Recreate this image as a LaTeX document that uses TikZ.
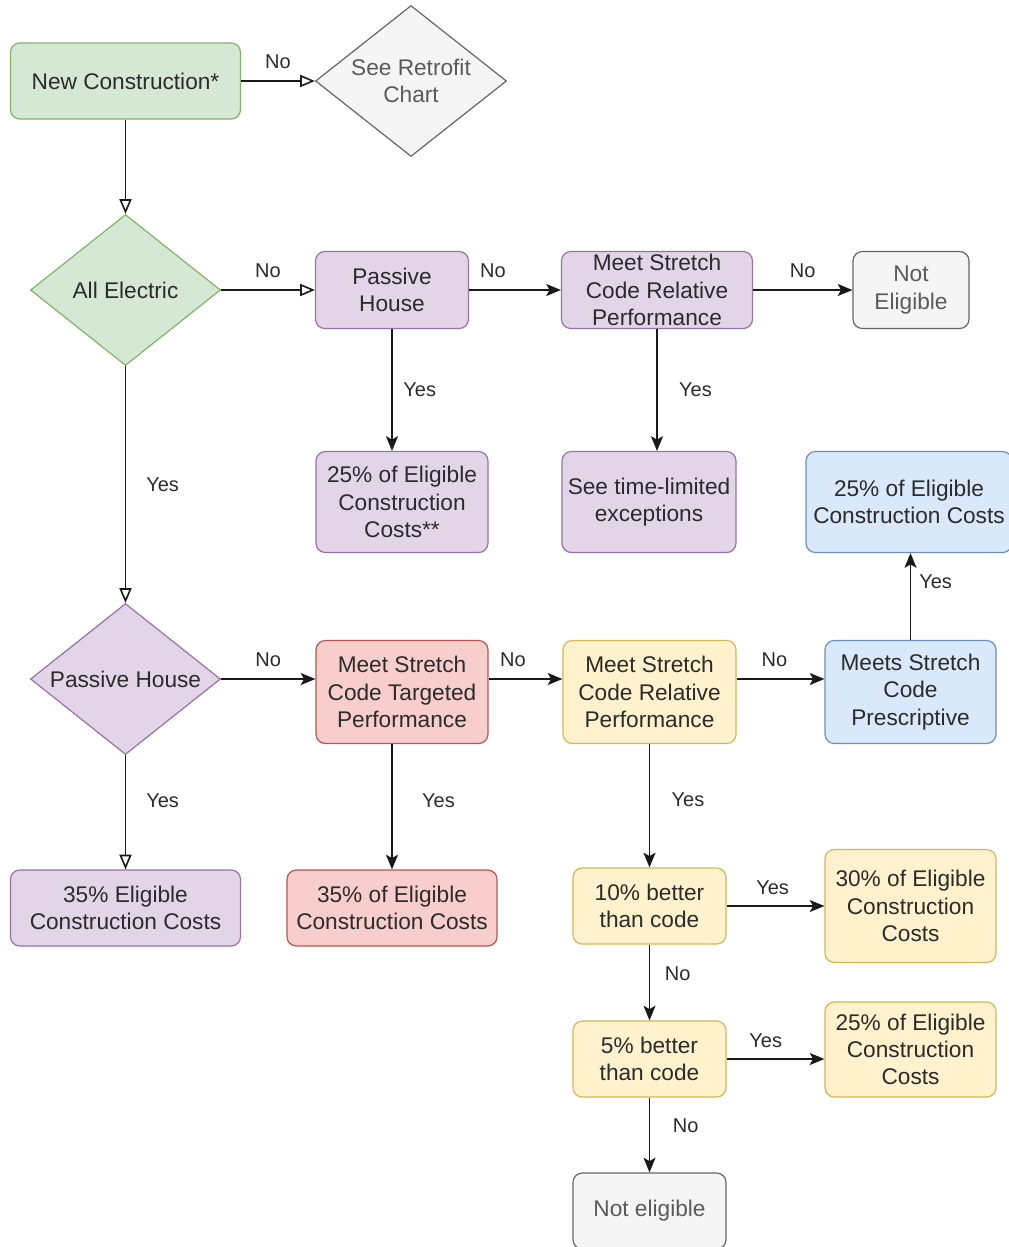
\documentclass[tikz,border=0pt]{standalone}
\usepackage{fontspec}
\setmainfont{Liberation Sans}
\usetikzlibrary{shapes.geometric, arrows.meta}

\definecolor{greenfill}{HTML}{D5E8D4}
\definecolor{greenline}{HTML}{82B366}
\definecolor{grayfill}{HTML}{F5F5F5}
\definecolor{grayline}{HTML}{666666}
\definecolor{purplefill}{HTML}{E1D5E7}
\definecolor{purpleline}{HTML}{9673A6}
\definecolor{redfill}{HTML}{F8CECC}
\definecolor{redline}{HTML}{B85450}
\definecolor{yellowfill}{HTML}{FFF2CC}
\definecolor{yellowline}{HTML}{D6B656}
\definecolor{bluefill}{HTML}{DAE8FC}
\definecolor{blueline}{HTML}{6C8EBF}
\definecolor{txtdark}{HTML}{2B2B2B}
\definecolor{txtgray}{HTML}{5A5A5A}

\begin{document}
\begin{tikzpicture}[x=0.75pt, y=-0.75pt,
    box/.style={draw, rounded corners=7pt, align=center, inner sep=0pt, line width=0.9pt,
        text=txtdark, font=\fontsize{17}{20.5}\selectfont},
    dia/.style={draw, diamond, aspect=1.26, align=center, inner sep=0pt, line width=0.9pt,
        text=txtdark, font=\fontsize{17}{20.5}\selectfont},
    green/.style={fill=greenfill, draw=greenline},
    grey/.style={fill=grayfill, draw=grayline, text=txtgray},
    purple/.style={fill=purplefill, draw=purpleline},
    red/.style={fill=redfill, draw=redline},
    yellow/.style={fill=yellowfill, draw=yellowline},
    blue/.style={fill=bluefill, draw=blueline},
    hol/.style={line width=1.2pt, draw=black!90, -{Triangle[open, length=11pt, width=9pt]}},
    arr/.style={line width=1.2pt, draw=black!90, -{Stealth[length=11pt, width=9pt, inset=2.5pt]}},
    lbl/.style={text=txtdark, font=\fontsize{15}{18}\selectfont, inner sep=0pt}
]
\useasboundingbox[fill=white] (0,0) rectangle (1008,1247);

% top row
\node[box, green, minimum width=172.5pt, minimum height=57pt] (nc) at (125.5,81) {New Construction*};
\node[dia, grey, minimum width=143.25pt, minimum height=113.25pt] (retro) at (411,81) {See Retrofit\\Chart};

% all electric, no branch
\node[dia, green, minimum width=142.5pt, minimum height=113.25pt] (ae) at (125.5,290) {All Electric};
\node[box, purple, minimum width=114.75pt, minimum height=57.75pt] (ph1) at (392,290) {Passive\\House};
\node[box, purple, minimum width=143.25pt, minimum height=57.75pt] (rel1) at (657,290) {Meet Stretch\\Code Relative\\Performance};
\node[box, grey, minimum width=87pt, minimum height=57.75pt] (notel) at (911,290) {Not\\Eligible};
\node[box, purple, minimum width=129pt, minimum height=75.75pt] (r25a) at (402,502) {25\% of Eligible\\Construction\\Costs**};
\node[box, purple, minimum width=130.5pt, minimum height=75.75pt] (seetl) at (649,502) {See time-limited\\exceptions};
\node[box, blue, minimum width=154.5pt, minimum height=75.75pt] (r25blue) at (909,502) {25\% of Eligible\\Construction Costs};

% all electric, yes branch
\node[dia, purple, minimum width=142.5pt, minimum height=113.25pt] (phd) at (125.5,679) {Passive House};
\node[box, red, minimum width=129pt, minimum height=77.25pt] (tgt) at (402,692) {Meet Stretch\\Code Targeted\\Performance};
\node[box, yellow, minimum width=129.75pt, minimum height=77.25pt] (rel2) at (649.5,692) {Meet Stretch\\Code Relative\\Performance};
\node[box, blue, minimum width=128.25pt, minimum height=77.25pt] (presc) at (910.5,692) {Meets Stretch\\Code\\Prescriptive};
\node[box, purple, minimum width=172.5pt, minimum height=57pt] (r35a) at (125.5,908) {35\% Eligible\\Construction Costs};
\node[box, red, minimum width=157.5pt, minimum height=57pt] (r35b) at (392,908) {35\% of Eligible\\Construction Costs};
\node[box, yellow, minimum width=114.75pt, minimum height=57pt] (b10) at (649.5,906) {10\% better\\than code};
\node[box, yellow, minimum width=128.25pt, minimum height=84.75pt] (r30) at (910.5,906) {30\% of Eligible\\Construction\\Costs};
\node[box, yellow, minimum width=114.75pt, minimum height=57pt] (b5) at (649.5,1059) {5\% better\\than code};
\node[box, yellow, minimum width=128.25pt, minimum height=71.25pt] (r25y) at (910.5,1049.5) {25\% of Eligible\\Construction\\Costs};
\node[box, grey, minimum width=114.75pt, minimum height=57pt] (note) at (649.5,1211) {Not eligible};

% connectors
\draw[hol] (nc.east) -- (retro.west) node[lbl, midway, above=8.5pt] {No};
\draw[hol] (nc.south) -- (ae.north);
\draw[hol] (ae.east) -- (ph1.west) node[lbl, midway, above=8.5pt] {No};
\draw[hol] (ae.south) -- (phd.north) node[lbl, midway, right=15pt] {Yes};
\draw[arr] (ph1.east) -- (rel1.west) node[lbl, pos=.26, above=8.5pt] {No};
\draw[arr] (rel1.east) -- (notel.west) node[lbl, midway, above=8.5pt] {No};
\draw[arr] (ph1.south) -- (ph1.south |- r25a.north) node[lbl, midway, right=8pt] {Yes};
\draw[arr] (rel1.south) -- (rel1.south |- seetl.north) node[lbl, midway, right=16pt] {Yes};

\draw[arr] (phd.east) -- (phd.east -| tgt.west) node[lbl, midway, above=8.5pt] {No};
\draw[hol] (phd.south) -- (r35a.north) node[lbl, pos=.4, right=15pt] {Yes};
\draw[arr] (tgt.east |- phd.east) -- (rel2.west |- phd.east) node[lbl, pos=.33, above=8.5pt] {No};
\draw[arr] (tgt.south -| r35b.north) -- (r35b.north) node[lbl, pos=.45, right=22pt] {Yes};
\draw[arr] (rel2.east |- phd.east) -- (presc.west |- phd.east) node[lbl, pos=.43, above=8.5pt] {No};
\draw[arr] (presc.north) -- (presc.north |- r25blue.south) node[lbl, pos=.67, right=6pt] {Yes};
\draw[arr] (rel2.south) -- (b10.north) node[lbl, pos=.45, right=16pt] {Yes};
\draw[arr] (b10.east) -- (r30.west) node[lbl, pos=.47, above=8pt] {Yes};
\draw[arr] (b10.south) -- (b5.north) node[lbl, pos=.38, right=11pt] {No};
\draw[arr] (b5.east) -- (b5.east -| r25y.west) node[lbl, pos=.4, above=8pt] {Yes};
\draw[arr] (b5.south) -- (note.north) node[lbl, pos=.37, right=17pt] {No};
\end{tikzpicture}
\end{document}
